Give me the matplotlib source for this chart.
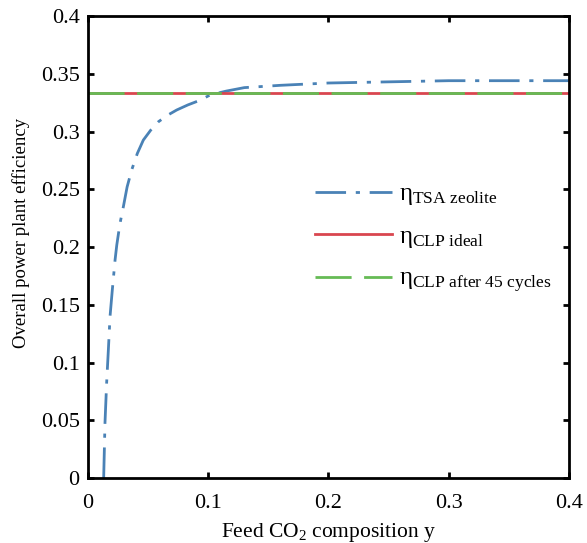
import numpy as np
import matplotlib
matplotlib.use('Agg')
import matplotlib.pyplot as plt

plt.rcParams['font.family'] = ['Liberation Serif', 'DejaVu Serif']
plt.rcParams['mathtext.fontset'] = 'custom'
plt.rcParams['mathtext.rm'] = 'Liberation Serif'
plt.rcParams['mathtext.it'] = 'Liberation Serif:italic'

# Feed CO2 composition vs efficiency
y_feed = [0.0130, 0.0141, 0.0155, 0.0169, 0.0183, 0.0202, 0.0225, 0.0239,
          0.0265, 0.0294, 0.0325, 0.0363, 0.041, 0.046, 0.052, 0.0586, 0.066,
          0.0737, 0.083, 0.093, 0.1015, 0.115, 0.13, 0.16, 0.2, 0.25, 0.3,
          0.35, 0.4]
eta_tsa = [0.0, 0.048, 0.083, 0.111, 0.140, 0.163, 0.189, 0.2017,
           0.220, 0.235, 0.252, 0.2667, 0.281, 0.2926, 0.301, 0.3085, 0.314,
           0.3186, 0.323, 0.327, 0.3316, 0.335, 0.338, 0.340, 0.342, 0.343,
           0.344, 0.344, 0.344]
eta_clp_ideal = 0.333
eta_clp_45 = 0.333

fig = plt.figure(figsize=(5.87, 5.43), dpi=100)
ax = fig.add_axes([0.150, 0.1197, 0.819, 0.8508])

ax.plot(y_feed, eta_tsa, color='#4a82b6', lw=2, dashes=(11, 3.5, 1.5, 3.5),
        label='η$_{\\mathrm{TSA\\ zeolite}}$')
ax.plot([0, 0.4], [eta_clp_ideal, eta_clp_ideal], color='#d9464f', lw=2,
        label='η$_{\\mathrm{CLP\\ ideal}}$')
ax.plot([0, 0.4], [eta_clp_45, eta_clp_45], color='#66bb55', lw=2,
        dashes=(13, 4.5), label='η$_{\\mathrm{CLP\\ after\\ 45\\ cycles}}$')

ax.set_xlim(0, 0.4)
ax.set_ylim(0, 0.4)
ax.set_xticks([0, 0.1, 0.2, 0.3, 0.4])
ax.set_xticklabels(['0', '0.1', '0.2', '0.3', '0.4'])
ax.set_yticks(np.arange(0, 0.41, 0.05))
ax.set_yticklabels(['0', '0.05', '0.1', '0.15', '0.2', '0.25', '0.3', '0.35', '0.4'])
ax.tick_params(direction='in', top=True, right=True, labelsize=16, width=2,
               length=4)
ax.tick_params(axis='x', pad=11.5)
ax.tick_params(axis='y', pad=6)
for s in ax.spines.values():
    s.set_linewidth(2)

ax.set_xlabel('Feed CO$_2$ composition y', fontsize=15.5, labelpad=6)
ax.set_ylabel('Overall power plant efficiency', fontsize=13.5)
ax.yaxis.set_label_coords(-0.12, 0.53)

ax.legend(loc='upper left', bbox_to_anchor=(0.472, 0.639), frameon=False,
          fontsize=18, handlelength=3.1, handletextpad=0.25, labelspacing=0.73,
          borderpad=0, borderaxespad=0)

fig.savefig('out.png', dpi=100)
